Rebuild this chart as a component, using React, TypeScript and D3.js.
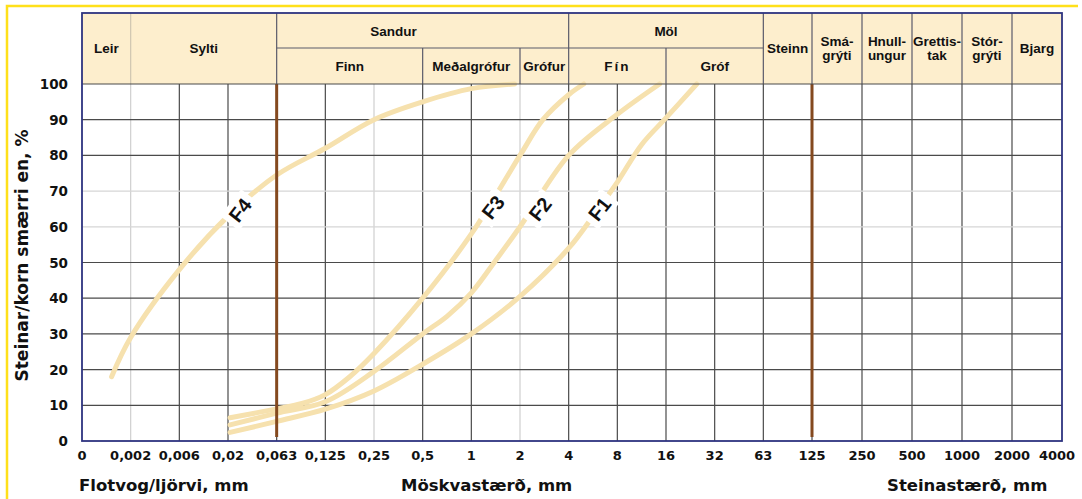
import React, { useEffect, useRef } from "react";
import * as d3 from "d3";

// sieve sizes along the bottom (mm), one grid column between each
const sieveLabels = ["0", "0,002", "0,006", "0,02", "0,063", "0,125", "0,25", "0,5", "1", "2", "4", "8", "16", "32", "63", "125", "250", "500", "1000", "2000", "4000"];
const sieveMm = [0, 0.002, 0.006, 0.02, 0.063, 0.125, 0.25, 0.5, 1, 2, 4, 8, 16, 32, 63, 125, 250, 500, 1000, 2000, 4000];
const lightCols = [1, 6, 9];
const percentTicks = [0, 10, 20, 30, 40, 50, 60, 70, 80, 90, 100];
const lightRows = [60, 70];
const boundaryMm = [0.063, 125];

// header classes: [name, from column, to column]
const headerFull = [["Leir", 0, 1], ["Sylti", 1, 4], ["Steinn", 14, 15], ["Smá-\ngrýti", 15, 16], ["Hnull-\nungur", 16, 17], ["Grettis-\ntak", 17, 18], ["Stór-\ngrýti", 18, 19], ["Bjarg", 19, 20]];
const headerGroups = [["Sandur", 4, 10], ["Möl", 10, 14]];
const headerSubs = [["Finn", 4, 7], ["Meðalgrófur", 7, 9], ["Grófur", 9, 10], ["Fín", 10, 12], ["Gróf", 12, 14]];

// grading curves: [mm, % passing]
const f1 = [[0.021, 2.4], [0.063, 5.5], [0.125, 8.9], [0.25, 14], [0.5, 21.5], [1, 30], [2, 40.5], [4, 54], [5.66, 63], [8, 72.5], [11.3, 83], [16, 90.5], [24.8, 100]];
const f2 = [[0.021, 4.5], [0.063, 7.8], [0.125, 11], [0.25, 19.5], [0.5, 30], [0.71, 35], [1, 41.5], [1.41, 50.5], [2, 60], [4, 80], [8, 91.5], [14.6, 100]];
const f3 = [[0.021, 6.5], [0.063, 9], [0.09, 10.5], [0.125, 13], [0.177, 18], [0.25, 24.5], [0.5, 40], [1, 58], [2, 80], [2.77, 90], [4, 97], [4.96, 100]];
const f4 = [[0.0013, 18], [0.002, 29], [0.006, 48], [0.02, 63], [0.063, 74.5], [0.125, 82], [0.25, 90], [0.5, 95], [1, 98.7], [1.85, 100]];
const curves = [f1, f2, f3, f4];
const curveNames = ["F1", "F2", "F3", "F4"];
const labelAt = [[6.2, 65], [2.66, 65], [1.36, 65.5], [0.0266, 64.7]];

const W = 1082;
const H = 499;

const App = () => {
  const ref = useRef<SVGSVGElement>(null);

  useEffect(() => {
    const svg = d3.select(ref.current);
    svg.selectAll("*").remove();

    const top = 13, mid = 48, head = 84, bottom = 441;
    const x = d3.scaleLinear().domain([0, 15, 20]).range([82, 812, 1062]);
    const col = d3.scaleLog().domain(sieveMm.slice(1)).range(d3.range(1, sieveMm.length));
    const xmm = (mm: number) => x(col(mm));
    const y = d3.scaleLinear().domain([0, 100]).range([bottom, head]);
    const left = x(0), right = x(20);

    const tickFont = "'DejaVu Sans', Verdana, sans-serif";
    const headFont = "'Liberation Sans', Arial, sans-serif";

    svg.append("rect").attr("width", W).attr("height", H).attr("fill", "#fff");

    // yellow frame
    svg.append("path").attr("d", `M7,${H} V6 H1078`).attr("fill", "none").attr("stroke", "#ffe01a").attr("stroke-width", 2.5);

    svg.append("rect").attr("x", left).attr("y", top).attr("width", right - left).attr("height", head - top).attr("fill", "#fdeecd");

    // grid
    svg.append("g")
      .selectAll("line")
      .data(d3.range(1, 20))
      .join("line")
      .attr("x1", (d) => x(d)).attr("x2", (d) => x(d))
      .attr("y1", head).attr("y2", bottom)
      .attr("stroke", (d) => (lightCols.includes(d) ? "#cfcfcf" : "#4a4a4a"))
      .attr("stroke-width", 1.2);

    svg.append("g")
      .selectAll("line")
      .data(percentTicks.slice(1, -1))
      .join("line")
      .attr("x1", left).attr("x2", right)
      .attr("y1", (d) => y(d)).attr("y2", (d) => y(d))
      .attr("stroke", (d) => (lightRows.includes(d) ? "#d6d6d6" : "#4a4a4a"))
      .attr("stroke-width", 1.2);

    // grading curves
    const line = d3.line<number[]>()
      .x((d) => xmm(d[0]))
      .y((d) => y(d[1]))
      .curve(d3.curveCatmullRom.alpha(0.5));

    svg.append("g")
      .selectAll("path")
      .data(curves)
      .join("path")
      .attr("d", line)
      .attr("fill", "none")
      .attr("stroke", "#f6e1ae")
      .attr("stroke-width", 5)
      .attr("stroke-linecap", "round");

    // curve labels on white patches
    const lab = svg.append("g")
      .selectAll("g")
      .data(curveNames)
      .join("g")
      .attr("transform", (d, i) => `translate(${xmm(labelAt[i][0])},${y(labelAt[i][1])}) rotate(-52)`);
    lab.append("rect").attr("x", -17).attr("y", -12).attr("width", 34).attr("height", 24).attr("fill", "#fff");
    lab.append("text")
      .attr("text-anchor", "middle")
      .attr("dy", "0.36em")
      .attr("font-family", headFont)
      .attr("font-weight", "bold")
      .attr("font-size", 20)
      .attr("fill", "#111")
      .text((d) => d);

    // brown class boundaries
    svg.append("g")
      .selectAll("line")
      .data(boundaryMm)
      .join("line")
      .attr("x1", (d) => xmm(d)).attr("x2", (d) => xmm(d))
      .attr("y1", head).attr("y2", bottom - 4)
      .attr("stroke", "#84491f")
      .attr("stroke-width", 3);

    // header dividers
    const hd = svg.append("g").attr("stroke", "#5a5a6a").attr("stroke-width", 1.2);
    const cuts = [1, 4, 7, 9, 10, 12, 14, 15, 16, 17, 18, 19];
    hd.selectAll("line.v")
      .data(cuts)
      .join("line")
      .attr("x1", (d) => x(d)).attr("x2", (d) => x(d))
      .attr("y1", (d) => ([7, 9, 12].includes(d) ? mid : top))
      .attr("y2", head)
      .attr("stroke", (d) => (d === 1 ? "#cfc6b0" : null));
    hd.append("line").attr("x1", x(4)).attr("x2", x(14)).attr("y1", mid).attr("y2", mid);
    hd.append("line").attr("x1", left).attr("x2", right).attr("y1", head).attr("y2", head).attr("stroke", "#4a4a4a");

    const ht = svg.append("g")
      .attr("font-family", headFont)
      .attr("font-weight", "bold")
      .attr("font-size", 13.5)
      .attr("fill", "#111")
      .attr("text-anchor", "middle");

    headerFull.forEach(([name, a, b]) => {
      const parts = String(name).split("\n");
      const cx = (x(+a) + x(+b)) / 2;
      const t = ht.append("text");
      parts.forEach((p, i) => {
        t.append("tspan")
          .attr("x", cx)
          .attr("y", (top + head) / 2 + 4.5 + (i - (parts.length - 1) / 2) * 13.5)
          .text(p);
      });
    });
    headerGroups.forEach(([name, a, b]) => {
      // "Sandur" sits left of its span's centre in the original
      const cx = name === "Sandur" ? x(6.4) : (x(+a) + x(+b)) / 2;
      ht.append("text").attr("x", cx).attr("y", (top + mid) / 2 + 5).text(String(name));
    });
    headerSubs.forEach(([name, a, b]) => {
      ht.append("text")
        .attr("x", (x(+a) + x(+b)) / 2)
        .attr("y", (mid + head) / 2 + 5)
        .attr("letter-spacing", name === "Fín" ? 2 : 0)
        .text(String(name));
    });

    // frame
    svg.append("rect")
      .attr("x", left).attr("y", top)
      .attr("width", right - left).attr("height", bottom - top)
      .attr("fill", "none")
      .attr("stroke", "#2e3380")
      .attr("stroke-width", 1.8);

    // axis labels
    const ax = svg.append("g")
      .attr("font-family", tickFont)
      .attr("font-weight", "bold")
      .attr("fill", "#111");

    ax.selectAll("text.y")
      .data(percentTicks)
      .join("text")
      .attr("x", 68)
      .attr("y", (d) => y(d) + 5)
      .attr("text-anchor", "end")
      .attr("font-size", 13.5)
      .text((d) => d);

    ax.selectAll("text.x")
      .data(sieveLabels)
      .join("text")
      .attr("x", (d, i) => x(i) - (i === 20 ? 5 : 0))
      .attr("y", 460)
      .attr("text-anchor", "middle")
      .attr("font-size", 13)
      .text((d) => d);

    const titles = svg.append("g")
      .attr("font-family", tickFont)
      .attr("font-weight", "bold")
      .attr("font-size", 16.5)
      .attr("fill", "#111");
    titles.append("text").attr("x", 79).attr("y", 491).text("Flotvog/ljörvi, mm");
    titles.append("text").attr("x", 401).attr("y", 491).text("Möskvastærð, mm");
    titles.append("text").attr("x", 887).attr("y", 491).text("Steinastærð, mm");
    titles.append("text")
      .attr("transform", `translate(28,${(head + bottom) / 2 - 7}) rotate(-90)`)
      .attr("text-anchor", "middle")
      .attr("font-size", 17)
      .text("Steinar/korn smærri en, %");
  }, []);

  return (
    <svg ref={ref} width={W} height={H} style={{ position: "absolute", left: 0, top: 0 }}>
      {/* chart drawn by d3 */}
    </svg>
  );
};

export default App;
